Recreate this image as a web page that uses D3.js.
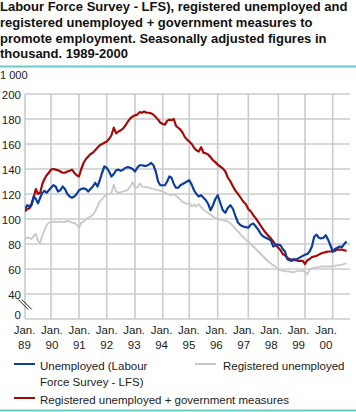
<!DOCTYPE html>
<html><head><meta charset="utf-8">
<script src="https://cdn.jsdelivr.net/npm/d3@7"></script>
<style>
html,body{margin:0;padding:0;background:#fff;}
svg{display:block;font-family:"Liberation Sans",Arial,sans-serif;}
</style></head>
<body><svg id="c" width="356" height="412"></svg>
<script>
// ---- data ----
const titleLines = [
  "Labour Force Survey - LFS), registered unemployed and",
  "registered unemployed + government measures to",
  "promote employment. Seasonally adjusted figures in",
  "thousand. 1989-2000"
];
const startYear = 1989;               // monthly series start January 1989
const years = [1989,1990,1991,1992,1993,1994,1995,1996,1997,1998,1999,2000];
const yearLabels = ["89","90","91","92","93","94","95","96","97","98","99","00"];
const yTicks = [0,40,60,80,100,120,140,160,180,200];
const unitLabel = "1 000";

// Unemployed (LFS), monthly
const lfs = [
 108,111,110,112,118,116,112.5,117,121,122.5,121,123,
 125,127,126,122,123,126,124,120,118,117,118,120,
 123,124,124.5,124,122,124,126,129,126,131,137,142,
 141,138,134,136,139,139.5,138.5,139.5,141,141.5,141,140,
 138,141,143,143,142.5,142.5,143.5,144.8,143,138,130,127,
 127,127,130,134,133,128,125,125,127,128,129,130,
 131,127.5,123,120,118,119,117,115,112,107,111,116,
 119,113,107,105,109,111,108,102,97,95,94,93.5,
 93,95.5,96.5,94,91.5,88,86,85,84,83,78,79.5,
 79.5,79,76,74,68,67,66.5,68,67.5,68.5,69.5,70.5,
 71.5,72,74,78,86,87.5,85,84.5,85,87,83.5,79,
 74,76,77,78,77.5,80,82
];
// Registered unemployed, monthly
const registered = [
 84,85,85,84,86.5,88,82.5,81,87,91,95,97,
 97.5,98,97.5,97.5,98,97.5,97.5,98.5,98,97,97,95.5,
 93,97,98,99.5,101,102,103.5,106,110,114,116,118,
 119.5,120,121,127.5,122,121,121.5,122,122.5,123.5,126,129.5,
 125.5,125,128.5,126,125.5,125.5,125,124.5,124,123.5,123,122.5,
 122,121,120,119.5,119,120,118.5,117,115.5,113.5,113,112,
 113,110,111.5,110,112,109.5,107.5,106,104.8,103.5,102,101,
 100.3,99.5,99,98.5,98,96.5,94.5,92,90,87.5,85.5,83.5,
 82,80,78,76,74,72,70,68,66,64.5,63,61.5,
 60,59,58.5,58.5,58,58,57.5,57.5,58,58.5,58.5,58.5,
 58,55.5,59.5,60.5,61,61.5,61.5,62,62,62,62,62,
 62,62.5,63,63,63.5,64,64.5
];
// Registered unemployed + government measures, monthly
const regPlusMeasures = [
 106,108,108.5,111,117,124,120,121,128,132,135,137,
 139.5,140,139.5,139,138,137,137,138,138.5,139.5,137,135,
 134,140,145,148,150,152,153,155,157,159,160,161,
 162,164,167,173,168.5,170,171,172.5,175,178,180.5,182,
 183,183.5,185.5,185,186,185,185,184.5,183.5,181.5,179.5,177,
 176,175.5,178.5,179.5,179,180,174.5,173,171.5,169,165.5,163.5,
 162,160,157,155,154,157.5,153,152.5,151.5,149.5,147,145.5,
 143.5,142,140.5,138,133,130,126,122.5,120,117,114,112,
 108,106,103,100.5,97.5,94.5,91.5,89,86.5,84.5,82,79,
 77,75,72,71,69,68,67.5,67,67,66.5,66.5,66.5,
 64,67,68,69.5,70,70.5,71.5,72.5,73,73.5,74,74,
 74,74.5,75.5,75.5,75.5,75,74.5
];
const seriesNames = ["Unemployed (Labour|Force Survey - LFS)", "Registered unemployed", "Registered unemployed + government measures"];
const seriesColors = ["#0b3d9c", "#c8c8c8", "#a50a0a"];

// ---- layout ----
const svg = d3.select("#c");
const L = 25, R = 350, T = 94, B = 319;
const x = d3.scaleLinear()
  .domain([1989,1990,1991,1992,1993,1994,1995,1996,1997,1998,1999,2000,2001])
  .range([25,51,79,106.7,135,162.7,189.3,217.7,248.3,278.3,305,332.7,360.4]);
const xLab = d3.scaleLinear().domain([1989,2000]).range([24.5,326]);
const y = d3.scaleLinear().domain([0,40,200]).range([B,294,T]);
const gridColor = "#cbcbcb";
const textColor = "#222";

// title
const title = svg.append("g").attr("font-weight","bold").attr("font-size",13).attr("fill","#111");
titleLines.forEach((t,i)=>title.append("text").attr("x",0).attr("y",11+i*15.8).text(t));
svg.append("line").attr("x1",0).attr("x2",356).attr("y1",66.5).attr("y2",66.5)
  .attr("stroke","#6ccac4").attr("stroke-width",2);
svg.append("line").attr("x1",0).attr("x2",356).attr("y1",410.5).attr("y2",410.5)
  .attr("stroke","#6ccac4").attr("stroke-width",2);

// grid
const grid = svg.append("g").attr("stroke",gridColor).attr("stroke-width",1.6);
grid.selectAll("line.h").data(yTicks).join("line")
  .attr("x1",L).attr("x2",R).attr("y1",d=>y(d)).attr("y2",d=>y(d));
grid.selectAll("line.v").data(years).join("line")
  .attr("x1",d=>x(d)).attr("x2",d=>x(d)).attr("y1",T).attr("y2",B);

// y axis labels
const yAxis = d3.axisLeft(y).tickValues(yTicks).tickSize(0).tickPadding(4);
const ya = svg.append("g").attr("transform",`translate(${L},0)`).call(yAxis);
ya.select(".domain").remove();
ya.selectAll("text").attr("font-size",11.5).attr("fill",textColor)
  .attr("font-family","'Liberation Sans',Arial,sans-serif")
  .attr("dy",d=>d===0 ? "-0.05em" : "0.36em");
svg.append("text").attr("x",0).attr("y",79).attr("font-size",11).attr("fill",textColor).text(unitLabel);

// axis break marks
const by = y(20);
[-1.8,1.8].forEach(o=>{
  svg.append("line").attr("x1",L-5+o).attr("y1",by-7).attr("x2",L+5+o).attr("y2",by+3)
    .attr("stroke","#222").attr("stroke-width",1);
});

// x labels
const xl = svg.append("g").attr("font-size",11.5).attr("fill",textColor).attr("text-anchor","middle");
xl.selectAll("text.j").data(years).join("text").attr("x",d=>xLab(d)).attr("y",333.5).text("Jan.");
xl.selectAll("text.yy").data(years).join("text").attr("x",d=>xLab(d)).attr("y",348.5).text((d,i)=>yearLabels[i]);

// lines
svg.append("clipPath").attr("id","clip").append("rect").attr("x",L).attr("y",T-3).attr("width",R-L).attr("height",B-T+3);
const line = d3.line().x((d,i)=>x(startYear+i/12)).y(d=>y(d)).curve(d3.curveLinear);
const g = svg.append("g").attr("clip-path","url(#clip)").attr("fill","none").attr("stroke-linejoin","round");
g.append("path").datum(registered).attr("d",line).attr("stroke",seriesColors[1]).attr("stroke-width",1.8);
g.append("path").datum(regPlusMeasures).attr("d",line).attr("stroke",seriesColors[2]).attr("stroke-width",2.2);
g.append("path").datum(lfs).attr("d",line).attr("stroke",seriesColors[0]).attr("stroke-width",2.2);

// legend
const leg = svg.append("g").attr("font-size",11.5).attr("fill",textColor);
const legItems = [
  {i:0, lx:14, ly:364, tx:40},
  {i:1, lx:195, ly:364, tx:223},
  {i:2, lx:14, ly:398, tx:40}
];
legItems.forEach(d=>{
  leg.append("line").attr("x1",d.lx).attr("x2",d.lx+21).attr("y1",d.ly).attr("y2",d.ly)
    .attr("stroke",seriesColors[d.i]).attr("stroke-width",2);
  seriesNames[d.i].split("|").forEach((t,k)=>{
    leg.append("text").attr("x",d.tx).attr("y",d.ly+6+k*15.5).text(t);
  });
});
</script></body></html>
